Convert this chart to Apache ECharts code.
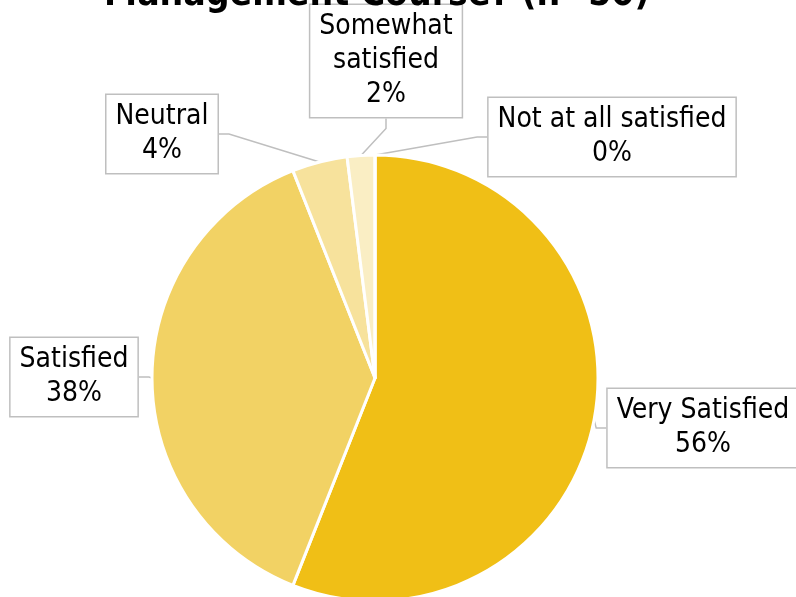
<!DOCTYPE html>
<html><head><meta charset="utf-8">
<script src="https://cdn.jsdelivr.net/npm/echarts@6/dist/echarts.min.js"></script>
<style>html,body{margin:0;padding:0;background:#fff}#c{width:796px;height:597px}</style>
</head><body><div id="c"></div>
<script>
const titleText = 'Management Course? (n=50)';
const categories = ['Very Satisfied', 'Satisfied', 'Neutral', 'Somewhat\nsatisfied', 'Not at all satisfied'];
const counts = [28, 19, 2, 1, 0];
const colors = ['#F0BF16', '#F2D264', '#F7E29C', '#FAEEC4', '#FDF8E6'];
// label box centres (layout only)
const labelPos = [[703, 428], [74, 377], [162, 134], [386, 61], [612, 137]];

const FONT = 'DejaVu Sans Condensed';
const chart = echarts.init(document.getElementById('c'), null, {renderer: 'canvas'});
chart.setOption({
  animation: false,
  title: {
    text: titleText, left: 99, top: -28,
    textStyle: {fontFamily: FONT, fontWeight: 'bold', fontSize: 37, color: '#000'}
  },
  series: [{
    type: 'pie',
    center: [375, 378],
    radius: 223,
    startAngle: 90,
    clockwise: true,
    avoidLabelOverlap: false,
    itemStyle: {borderColor: '#fff', borderWidth: 3},
    data: categories.map((c, i) => ({name: c, value: counts[i], itemStyle: {color: colors[i]}})),
    label: {
      show: true,
      formatter: p => p.name + '\n' + Math.round(p.percent) + '%',
      fontFamily: FONT, fontSize: 28, lineHeight: 34, color: '#000',
      align: 'center',
      backgroundColor: '#fff', borderColor: '#bfbfbf', borderWidth: 1.5,
      padding: [5, 9]
    },
    labelLine: {show: true, length: 10, length2: 10, lineStyle: {color: '#bfbfbf', width: 1.5}},
    labelLayout: function (params) {
      const p = labelPos[params.dataIndex];
      return {x: p[0], y: p[1], align: 'center', verticalAlign: 'middle'};
    }
  }]
});
</script></body></html>
